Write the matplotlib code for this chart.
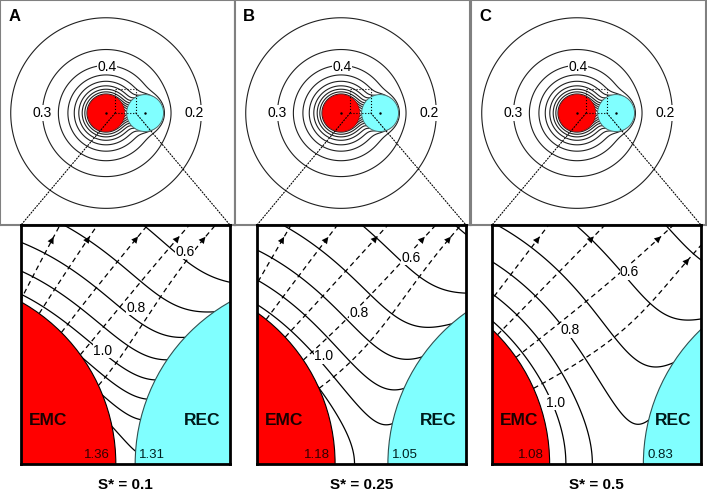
import numpy as np
import matplotlib
matplotlib.use("Agg")
import matplotlib.pyplot as plt
from matplotlib.patches import Circle, Rectangle, ConnectionPatch

plt.rcParams["font.family"] = ["Liberation Sans", "DejaVu Sans"]

# values
panel_letters = ["A", "B", "C"]
s_star = ["0.1", "0.25", "0.5"]
emc_value = [1.36, 1.18, 1.08]      # concentration at EMC surface (facing REC)
rec_value = [1.31, 1.05, 0.83]      # concentration at REC surface (facing EMC)
emc_offset = [0.49, 0.58, 0.69]     # EMC centre left of zoom window (cell radii)
top_levels = [0.2, 0.3, 0.4, 0.5, 0.6, 0.7, 0.8, 0.9, 1.0, 1.1, 1.2, 1.3]
zoom_levels = [0.5, 0.6, 0.7, 0.8, 0.9, 1.0, 1.1, 1.2, 1.3, 1.4]
top_labels = ["0.4", "0.3", "0.2"]
zoom_labels = ["1.0", "0.8", "0.6"]
# label positions (cell radii, EMC centre at origin)
top_label_xy = [(0.05, 2.5), (-3.46, 0.0), (4.76, 0.0)]
zoom_label_xy = [
    [(0.93, 0.61), (1.11, 0.84), (1.37, 1.14)],
    [(0.94, 0.58), (1.13, 0.81), (1.41, 1.11)],
    [(1.03, 0.33), (1.11, 0.72), (1.43, 1.03)],
]
arrow_angles = [
    [61, 54, 45, 36, 25],
    [59, 51, 43, 34, 24],
    [52, 44, 35, 24],
]

A_SRC = 1.03   # strength of EMC release
LAM = 0.2      # gap decay length
MU = 0.15      # REC decay length
D_TOP = 2.11   # centre distance in overview panels
WIN_W = 1.124
WIN_H = 1.285


def fit_boost(D, c_emc, c_rec):
    m = np.array([[1.0, np.exp(-(D - 2) / MU)], [1.0, 1.0]])
    b = np.array([c_emc - A_SRC, c_rec - A_SRC / (D - 1)])
    return np.linalg.solve(m, b)


def field(x, y, D, G, H):
    r1 = np.hypot(x, y)
    r2 = np.hypot(x - D, y)
    return A_SRC / r1 + G * np.exp(-(r1 + r2 - D) / LAM) + H * np.exp(-(r2 - 1) / MU)


def streamline(theta, D, G, H, xmax, ymax):
    p = np.array([np.cos(np.radians(theta)), np.sin(np.radians(theta))]) * 1.001
    pts = [p.copy()]
    h = 1e-4
    for _ in range(2000):
        gx = (field(p[0] + h, p[1], D, G, H) - field(p[0] - h, p[1], D, G, H)) / (2 * h)
        gy = (field(p[0], p[1] + h, D, G, H) - field(p[0], p[1] - h, D, G, H)) / (2 * h)
        g = np.array([-gx, -gy])
        p = p + 0.005 * g / np.hypot(*g)
        pts.append(p.copy())
        if p[0] > xmax or p[1] > ymax:
            break
    return np.array(pts)


W, Hpx = 707, 493
fig = plt.figure(figsize=(W / 100, Hpx / 100), dpi=100)

top_left = [0, 235, 471]
bot_left = [21, 257, 492]

for i in range(3):
    # ---- overview panel
    ax = fig.add_axes([top_left[i] / W, 268 / Hpx, 235 / W, 225 / Hpx])
    G0, H0 = fit_boost(D_TOP, emc_value[0], rec_value[0])
    x = np.linspace(-5.73, 6.97, 500)
    y = np.linspace(-6.05, 6.11, 500)
    X, Y = np.meshgrid(x, y)
    Z = field(X, Y, D_TOP, G0, H0)
    ax.contour(X, Y, Z, levels=top_levels, colors="#202020", linewidths=0.8)
    ax.add_patch(Circle((0, 0), 1, facecolor="#ff0000", edgecolor="#b00000", lw=0.5, zorder=3))
    ax.add_patch(Circle((D_TOP, 0), 1, facecolor="#80ffff", edgecolor="#507070", lw=0.7, zorder=3))
    ax.plot([0, D_TOP], [0, 0], "k.", ms=1.5, zorder=4)
    x_lo = emc_offset[0]
    ax.add_patch(Rectangle((x_lo, 0), WIN_W, WIN_H, fill=False, ec="k", lw=0.8, ls=":", zorder=5))
    for txt, (tx, ty) in zip(top_labels, top_label_xy):
        ax.text(tx, ty, txt, ha="center", va="center", fontsize=10,
                bbox=dict(fc="white", ec="none", pad=0.5), zorder=4)
    ax.text(0.035, 0.96, panel_letters[i], transform=ax.transAxes, ha="left", va="top",
            fontsize=12, fontweight="bold")
    ax.set_xlim(-5.73, 6.97)
    ax.set_ylim(-6.05, 6.11)
    ax.set_xticks([])
    ax.set_yticks([])
    for s in ax.spines.values():
        s.set_color("#808080")
        s.set_linewidth(1.5)

    # ---- zoomed panel
    d1 = emc_offset[i]
    D = d1 + WIN_W + d1
    G, H = fit_boost(D, emc_value[i], rec_value[i])
    bx = fig.add_axes([bot_left[i] / W, 29 / Hpx, 209 / W, 239 / Hpx])
    xmin, xmax = d1, d1 + WIN_W
    x = np.linspace(xmin - 0.05, xmax + 0.05, 400)
    y = np.linspace(0, WIN_H + 0.05, 400)
    X, Y = np.meshgrid(x, y)
    Z = field(X, Y, D, G, H)
    bx.contour(X, Y, Z, levels=zoom_levels, colors="k", linewidths=0.9)
    for th in arrow_angles[i]:
        pts = streamline(th, D, G, H, xmax, WIN_H)
        bx.plot(pts[:, 0], pts[:, 1], color="k", lw=0.9, ls=(0, (4, 3)), zorder=2)
        inside = (pts[:, 0] < xmax - 0.06) & (pts[:, 1] < WIN_H - 0.06)
        k = np.where(inside)[0][-1]
        bx.annotate("", xy=pts[k], xytext=pts[k - 3],
                    arrowprops=dict(arrowstyle="-|>", color="k", lw=0, mutation_scale=12),
                    zorder=2)
    bx.add_patch(Circle((0, 0), 1, facecolor="#ff0000", edgecolor="k", lw=0.8, zorder=3))
    bx.add_patch(Circle((D, 0), 1, facecolor="#80ffff", edgecolor="#305050", lw=0.8, zorder=3))
    for txt, (tx, ty) in zip(zoom_labels, zoom_label_xy[i]):
        bx.text(tx, ty, txt, ha="center", va="center", fontsize=10,
                bbox=dict(fc="white", ec="none", pad=0.3), zorder=4)
    bx.text(0.13, 0.184, "EMC", transform=bx.transAxes, ha="center", va="center",
            fontsize=12.5, fontweight="bold", color="#1a0000", zorder=5)
    bx.text(0.865, 0.184, "REC", transform=bx.transAxes, ha="center", va="center",
            fontsize=12.5, fontweight="bold", color="#001a1a", zorder=5)
    bx.text(1.0 - 0.03, 0.015, f"{emc_value[i]:.2f}", ha="right", va="bottom",
            fontsize=9.5, color="#300000", zorder=5)
    bx.text(D - 1.0 + 0.02, 0.015, f"{rec_value[i]:.2f}", ha="left", va="bottom",
            fontsize=9.5, color="#002020", zorder=5)
    bx.text(0.5, -0.06, f"S* = {s_star[i]}", transform=bx.transAxes, ha="center", va="top",
            fontsize=11, fontweight="bold")
    bx.set_xlim(xmin, xmax)
    bx.set_ylim(0, WIN_H)
    bx.set_aspect("equal")
    bx.set_xticks([])
    bx.set_yticks([])
    for s in bx.spines.values():
        s.set_linewidth(2)
        s.set_zorder(6)

    # ---- dotted connectors
    for (xa, xb) in [(x_lo, 0), (x_lo + WIN_W, 1)]:
        con = ConnectionPatch(xyA=(xa, 0), coordsA=ax.transData, xyB=(xb, 1),
                              coordsB=bx.transAxes, color="k", lw=0.8, ls=":", zorder=7)
        fig.add_artist(con)

fig.savefig("out.png", dpi=100)
